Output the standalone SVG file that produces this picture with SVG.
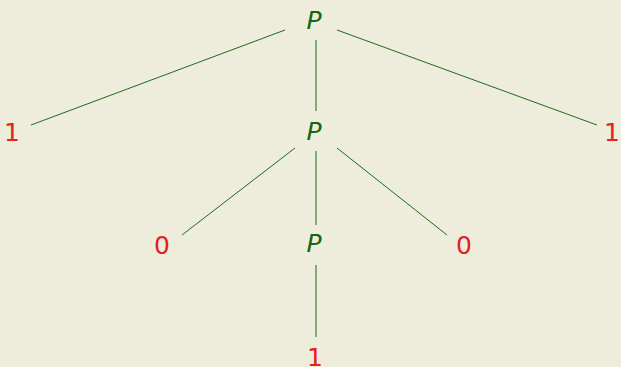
<svg xmlns="http://www.w3.org/2000/svg" width="621" height="367" viewBox="0 0 621 367">
<style>
.bg{fill:#eeeddc}
.e{stroke:#1b6b1b;stroke-width:1;fill:none}
.p{font-family:"DejaVu Sans","Liberation Sans",sans-serif;font-style:italic;font-size:25px;fill:#146614;text-anchor:middle}
.n{font-family:"DejaVu Sans","Liberation Sans",sans-serif;font-size:25px;fill:#e3211f;text-anchor:middle}
</style>
<rect class="bg" width="621" height="367"/>
<g id="edges">
<line class="e" x1="285" y1="30" x2="31" y2="125"/>
<line class="e" x1="337" y1="30" x2="597" y2="125"/>
<line class="e" x1="316" y1="40" x2="316" y2="111"/>
<line class="e" x1="295" y1="148" x2="182" y2="235"/>
<line class="e" x1="337" y1="148" x2="447" y2="235"/>
<line class="e" x1="316" y1="151" x2="316" y2="225"/>
<line class="e" x1="316" y1="265" x2="316" y2="337"/>
</g>
<g id="p1"><text class="p" x="314" y="29">P</text></g>
<g id="l1"><text class="n" x="12" y="141">1</text></g>
<g id="r1"><text class="n" x="612" y="141">1</text></g>
<g id="p2"><text class="p" x="314" y="140">P</text></g>
<g id="l0"><text class="n" x="162" y="254">0</text></g>
<g id="r0"><text class="n" x="464" y="254">0</text></g>
<g id="p3"><text class="p" x="314" y="252">P</text></g>
<g id="b1"><text class="n" x="315" y="366">1</text></g>
</svg>
